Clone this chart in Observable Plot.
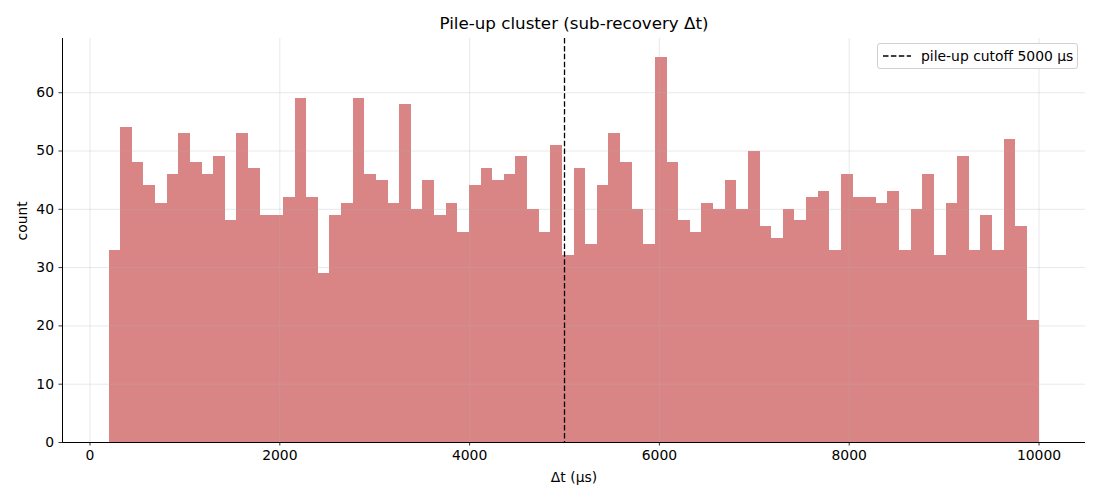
<!DOCTYPE html>
<html>
<head>
<meta charset="utf-8">
<script src="https://cdn.jsdelivr.net/npm/d3@7"></script>
<script src="https://cdn.jsdelivr.net/npm/@observablehq/plot@0.6"></script>
<style>
  html, body { margin: 0; padding: 0; background: white; }
  #wrap { position: relative; width: 1100px; height: 500px; font-family: "DejaVu Sans", sans-serif; }
  #legend { position: absolute; left: 877px; top: 43px; width: 201px; height: 26px; box-sizing: border-box;
            border: 1px solid #d0d0d0; border-radius: 3px; background: rgba(255,255,255,0.85);
            display: flex; align-items: center; font-size: 13.9px; color: #000; }
  #legend svg { margin-left: 5px; margin-right: 10px; }
</style>
</head>
<body>
<div id="wrap"></div>
<script>
// Data (80 bins from 200 to 10000 µs)
const binStart = 200;
const binWidth = 122.5;
const counts = [33,54,48,44,41,46,53,48,46,49,38,53,47,39,39,42,59,42,29,39,41,59,46,45,41,58,40,45,39,41,36,44,47,45,46,49,40,36,51,32,47,34,44,53,48,40,34,66,48,38,36,41,40,45,40,50,37,35,40,38,42,43,33,46,42,42,41,43,33,40,46,32,41,49,33,39,33,52,37,21];
const cutoff = [5000];
const xTicks = [0, 2000, 4000, 6000, 8000, 10000];
const yTicks = [0, 10, 20, 30, 40, 50, 60];
const xDomain = [-290, 10490];
const yDomain = [0, 69.3];
const title = "Pile-up cluster (sub-recovery Δt)";
const xLabel = "Δt (μs)";
const yLabel = "count";
const legendLabel = "pile-up cutoff 5000 μs";

const bins = counts.map((c, i) => ({x1: binStart + i * binWidth, x2: binStart + (i + 1) * binWidth, count: c}));

const chart = Plot.plot({
  width: 1100,
  height: 500,
  marginLeft: 62,
  marginRight: 15,
  marginTop: 38,
  marginBottom: 58,
  style: {fontFamily: "DejaVu Sans", fontSize: "13.9px", background: "white", color: "black"},
  x: {domain: xDomain},
  y: {domain: yDomain},
  marks: [
    Plot.rectY(bins, {x1: "x1", x2: "x2", y: "count", fill: "indianred", fillOpacity: 0.75, shapeRendering: "crispEdges"}),
    Plot.gridX(xTicks, {stroke: "#b0b0b0", strokeOpacity: 0.35, strokeWidth: 0.8}),
    Plot.gridY(yTicks, {stroke: "#b0b0b0", strokeOpacity: 0.35, strokeWidth: 0.8}),
    Plot.ruleX(cutoff, {stroke: "black", strokeWidth: 1.3, strokeDasharray: "5.5,2.4"}),
    Plot.axisX(xTicks, {tickSize: 3.5, tickPadding: 4, tickFormat: d => String(d), label: null, fontSize: 13.9, strokeWidth: 0.8}),
    Plot.axisY(yTicks, {tickSize: 3.5, tickPadding: 5, tickFormat: d => String(d), label: null, fontSize: 13.9, strokeWidth: 0.8}),
    Plot.ruleY([yDomain[0]], {stroke: "black", strokeWidth: 1}),
    Plot.ruleX([xDomain[0]], {stroke: "black", strokeWidth: 1}),
    Plot.text([title], {text: d => d, frameAnchor: "top", dy: -15, fontSize: 16.7, lineAnchor: "middle"}),
    Plot.text([xLabel], {text: d => d, frameAnchor: "bottom", dy: 35, fontSize: 13.9, lineAnchor: "middle"}),
    Plot.text([yLabel], {text: d => d, frameAnchor: "left", dx: -40, rotate: -90, fontSize: 13.9, lineAnchor: "middle"})
  ]
});

const wrap = document.getElementById("wrap");
wrap.appendChild(chart);

const legend = document.createElement("div");
legend.id = "legend";
legend.innerHTML = `<svg width="28" height="4"><line x1="0" y1="2" x2="28" y2="2" stroke="black" stroke-width="1.3" stroke-dasharray="5.5,2.4"/></svg><span>${legendLabel}</span>`;
wrap.appendChild(legend);
</script>
</body>
</html>
